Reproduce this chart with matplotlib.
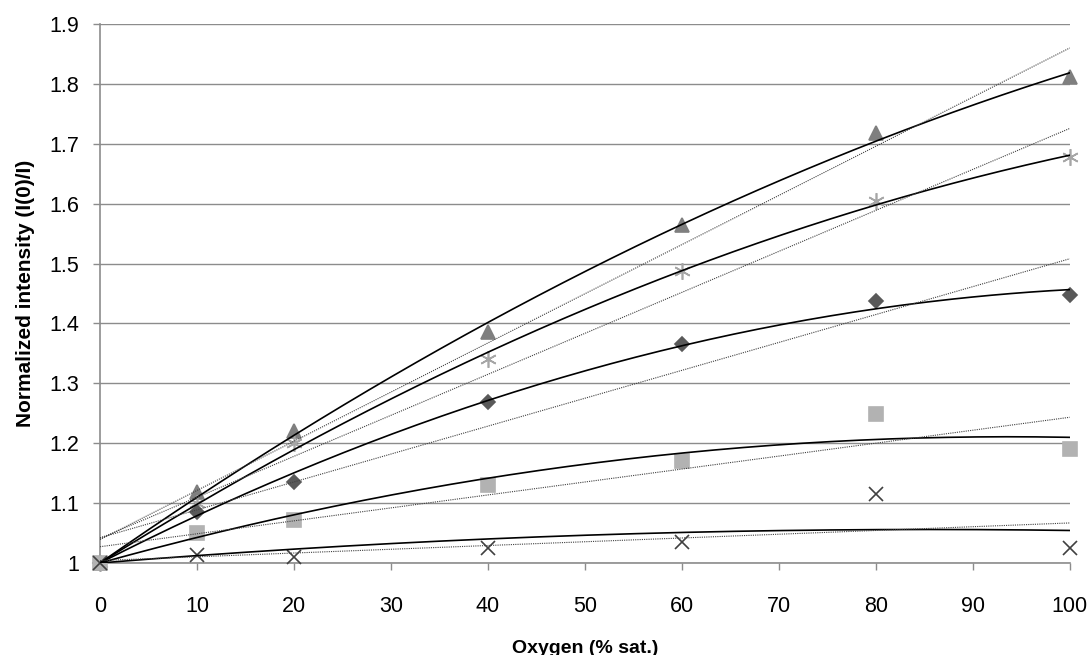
import matplotlib.pyplot as plt
import numpy as np

# -----------------------------------------------------------------------------
# Data
oxygen = np.array([0, 10, 20, 40, 60, 80, 100])

tri_vals  = np.array([1.0, 1.118, 1.220, 1.385, 1.565, 1.718, 1.812])
star_vals = np.array([1.0, 1.100, 1.200, 1.340, 1.487, 1.605, 1.678])
dia_vals  = np.array([1.0, 1.085, 1.135, 1.268, 1.365, 1.438, 1.448])
sq_vals   = np.array([1.0, 1.050, 1.072, 1.130, 1.170, 1.248, 1.190])
x_vals    = np.array([1.0, 1.013, 1.010, 1.025, 1.035, 1.115, 1.025])

series = [
    (tri_vals,  '^', '#7f7f7f', 10),
    (star_vals, (6, 2, 0), '#a6a6a6', 12),
    (dia_vals,  'D', '#595959', 7.5),
    (sq_vals,   's', '#b2b2b2', 9.5),
    (x_vals,    'x', '#404040', 10),
]

# -----------------------------------------------------------------------------
plt.rcParams['font.family'] = ['Liberation Sans', 'DejaVu Sans']
fig = plt.figure(figsize=(10.92, 6.55), dpi=100)
ax = fig.add_axes([0.0916, 0.1405, 0.888, 0.8229])

xs = np.linspace(0, 100, 200)
for vals, mk, col, ms in series:
    ax.plot(oxygen, vals, linestyle='none', marker=mk, color=col,
            markersize=ms, markeredgewidth=1.2, zorder=3, clip_on=False)
    # 2nd order polynomial trend, intercept fixed at 1
    A = np.vstack([oxygen, oxygen**2]).T
    coef = np.linalg.lstsq(A, vals - 1.0, rcond=None)[0]
    ax.plot(xs, 1.0 + coef[0]*xs + coef[1]*xs**2, color='black', lw=1.2, zorder=4)
    # linear trend
    lin = np.polyfit(oxygen, vals, 1)
    ax.plot(xs, np.polyval(lin, xs), color='#404040', lw=0.8,
            linestyle=(0, (1, 1)), zorder=4)

ax.set_xlim(0, 100)
ax.set_ylim(1, 1.9)
ax.set_xticks(np.arange(0, 101, 10))
ax.set_yticks(np.arange(1.0, 1.91, 0.1))
ax.set_yticklabels(['1', '1.1', '1.2', '1.3', '1.4', '1.5', '1.6', '1.7', '1.8', '1.9'])
ax.yaxis.grid(True, color='#8c8c8c', lw=1)
ax.set_axisbelow(True)
for s in ['top', 'right']:
    ax.spines[s].set_visible(False)
for s in ['left', 'bottom']:
    ax.spines[s].set_color('#8c8c8c')
    ax.spines[s].set_linewidth(1.2)
ax.tick_params(axis='both', colors='#8c8c8c', labelcolor='black', labelsize=15.5,
               length=5, width=1)
ax.tick_params(axis='x', pad=19)
ax.tick_params(axis='y', pad=10)

ax.set_xlabel('Oxygen (% sat.)', fontsize=14, fontweight='bold', va='center')
ax.set_ylabel('Normalized intensity (I(0)/I)', fontsize=15, fontweight='bold', va='center')
ax.xaxis.set_label_coords(0.5, -0.158)
ax.yaxis.set_label_coords(-0.0773, 0.5)

plt.savefig('out.png', dpi=100)
plt.close()
